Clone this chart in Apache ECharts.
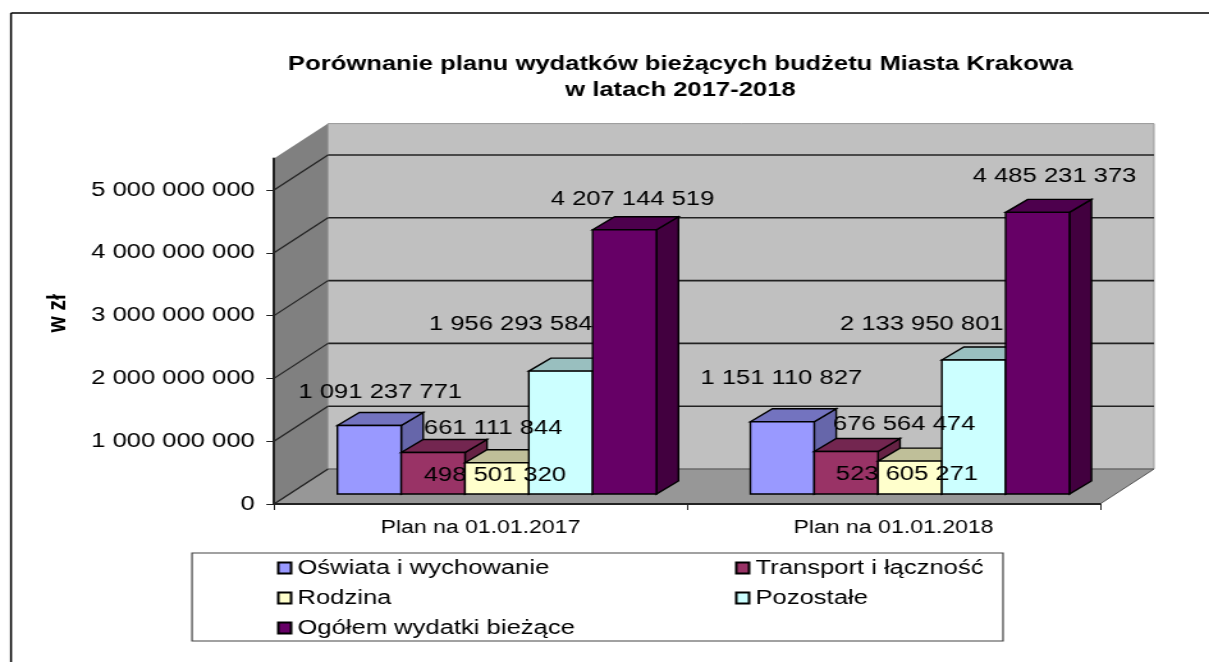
<!DOCTYPE html>
<html>
<head>
<meta charset="utf-8">
<title>Budżet Krakowa</title>
<script src="https://cdn.jsdelivr.net/npm/echarts@6/dist/echarts.min.js"></script>
<style>
    html, body { margin: 0; padding: 0; background: #fff; overflow: hidden; }
    /* the reference is a horizontally stretched, soft picture, text included */
    #chart { width: 945px; height: 662px; transform: scaleX(1.2794); transform-origin: 0 0; filter: blur(0.35px); }
</style>
</head>
<body>
<div id="chart"></div>
<script>
    const categories = ['Plan na 01.01.2017', 'Plan na 01.01.2018'];
    const seriesNames = ['Oświata i wychowanie', 'Transport i łączność', 'Rodzina', 'Pozostałe', 'Ogółem wydatki bieżące'];
    const oswiata = [1091237771, 1151110827];
    const transport = [661111844, 676564474];
    const rodzina = [498501320, 523605271];
    const pozostale = [1956293584, 2133950801];
    const ogolem = [4207144519, 4485231373];
    const yTicks = [0, 1000000000, 2000000000, 3000000000, 4000000000, 5000000000];
    const yMax = 5500000000;

    const S = 1209 / 945;
    const FONT = '"Liberation Sans", Arial, sans-serif';
    const allValues = [oswiata, transport, rodzina, pozostale, ogolem];
    const colors = ['#9999FF', '#993366', '#FFFFCC', '#CCFFFF', '#660066'];
    const topColors = ['#7373BF', '#732650', '#BFBF99', '#99BFBF', '#4D004D'];
    const sideColors = ['#6666AA', '#662244', '#AAAA88', '#88AAAA', '#42003F'];
    // hand-moved data labels of the original, page px from the top of each bar
    const labelShift = [
        [[0, -20], [49, -10.5], [-13, 26], [-61, -34], [-3, -17]],
        [[-12, -30], [47, -14], [-14, 26], [-63, -23], [6, -23]]
    ];
    const DEPTH = {x: 54 / S, y: 35};
    const BASE = {x: 16.4 / S, y: 10};
    const BAR_DEPTH = {x: 22 / S, y: 13};

    const chart = echarts.init(document.getElementById('chart'));

    function poly(points, fill, stroke, width) {
        return {type: 'polygon', shape: {points}, style: {fill, stroke: stroke || 'none', lineWidth: width || 0}};
    }
    function line(a, b, stroke, width) {
        return {type: 'line', shape: {x1: a[0], y1: a[1], x2: b[0], y2: b[1]}, style: {stroke, lineWidth: width}};
    }
    function back(p) {
        return [p[0] + DEPTH.x, p[1] - DEPTH.y];
    }

    function renderWalls(params, api) {
        const l0 = api.coord([0, 0]);
        const bandW = api.size([1, 0])[0];
        const left = l0[0] - bandW / 2;
        const right = left + bandW * categories.length;
        const yAt = v => api.coord([0, v])[1];
        const fl = [left, yAt(0)], fr = [right, yAt(0)], tl = [left, yAt(yMax)], tr = [right, yAt(yMax)];
        const children = [
            poly([fl, tl, back(tl), back(fl)], '#808080'),
            poly([back(tl), back(tr), back(fr), back(fl)], '#C0C0C0', '#999999', 1),
            poly([fl, fr, back(fr), back(fl)], '#979797', '#555555', 1)
        ];
        yTicks.forEach(v => {
            const a = [left, yAt(v)], b = [right, yAt(v)];
            if (v > 0) children.push(line(back(a), back(b), '#222222', 1.6));
            children.push(line(a, back(a), '#222222', 1.2));
        });
        return {type: 'group', children};
    }

    function renderBar(params, api) {
        const idx = params.seriesIndex - 1;
        const cat = api.value(0);
        const band = api.size([1, 0])[0];
        const w = band * 0.7725 / 5;
        const base = api.coord([cat, 0]);
        const top = api.coord([cat, api.value(1)]);
        const x0 = base[0] - 2.5 * w + idx * w + BASE.x;
        const x1 = x0 + w;
        const yb = base[1] - BASE.y;
        const yt = top[1] - BASE.y;
        const dx = BAR_DEPTH.x, dy = BAR_DEPTH.y;
        const edge = '#000000';
        return {type: 'group', children: [
            poly([[x1, yt], [x1 + dx, yt - dy], [x1 + dx, yb - dy], [x1, yb]], sideColors[idx], edge, 1.4),
            poly([[x0, yt], [x0 + dx, yt - dy], [x1 + dx, yt - dy], [x1, yt]], topColors[idx], edge, 1.4),
            poly([[x0, yb], [x0, yt], [x1, yt], [x1, yb]], colors[idx], edge, 1.4)
        ]};
    }

    function spaced(v) {
        return String(v).replace(/\B(?=(\d{3})+$)/g, ' ');
    }

    function renderLabel(params, api) {
        const cat = api.value(0), idx = api.value(1);
        const band = api.size([1, 0])[0];
        const w = band * 0.7725 / 5;
        const top = api.coord([cat, api.value(2)]);
        const shift = labelShift[cat][idx];
        return {
            type: 'text',
            x: top[0] - 2.5 * w + (idx + 0.5) * w + BASE.x + BAR_DEPTH.x / 2 + shift[0] / S,
            y: top[1] - BASE.y - BAR_DEPTH.y + shift[1],
            style: {text: spaced(api.value(2)), fill: '#000', font: '20px ' + FONT, textAlign: 'center', verticalAlign: 'middle'}
        };
    }

    const barSeries = seriesNames.map((name, i) => ({
        name,
        type: 'custom',
        renderItem: renderBar,
        encode: {x: 0, y: 1},
        itemStyle: {color: colors[i], borderColor: '#000', borderWidth: 1.4},
        z: 3,
        data: allValues[i].map((v, c) => [c, v])
    }));

    const labelData = [];
    allValues.forEach((vals, i) => vals.forEach((v, c) => labelData.push([c, i, v])));

    const legendBase = {
        orient: 'vertical',
        icon: 'rect',
        itemWidth: 10,
        itemHeight: 11,
        itemGap: 10,
        selectedMode: false,
        textStyle: {fontFamily: FONT, fontSize: 20, color: '#000', lineHeight: 20},
        padding: 0
    };

    chart.setOption({
        animation: false,
        backgroundColor: '#fff',
        title: {
            text: 'Porównanie planu wydatków bieżących budżetu Miasta Krakowa\nw latach 2017-2018',
            left: 674 / S,
            top: 46,
            textAlign: 'center',
            textStyle: {fontFamily: FONT, fontWeight: 'bold', fontSize: 20, lineHeight: 26, color: '#000'}
        },
        grid: {left: 274 / S, right: (1209 - 1100) / S, top: 158.6, bottom: 158},
        legend: [
            Object.assign({}, legendBase, {left: 277 / S, top: 558, data: [seriesNames[0], seriesNames[2], seriesNames[4]]}),
            Object.assign({}, legendBase, {left: 735 / S, top: 558, data: [seriesNames[1], seriesNames[3]]})
        ],
        xAxis: {
            type: 'category',
            data: categories,
            z: 6,
            axisLine: {lineStyle: {color: '#222', width: 2}},
            axisTick: {show: true, length: 6, lineStyle: {color: '#222', width: 1}},
            axisLabel: {fontFamily: FONT, fontSize: 18, color: '#000', margin: 15}
        },
        yAxis: {
            type: 'value',
            min: 0,
            max: yMax,
            interval: 1000000000,
            z: 6,
            name: 'w zł',
            nameLocation: 'middle',
            nameGap: 158,
            nameRotate: 90,
            nameTextStyle: {fontFamily: FONT, fontWeight: 'bold', fontSize: 21, color: '#000', padding: [0, 0, 0, 36]},
            splitLine: {show: false},
            axisLine: {show: true, lineStyle: {color: '#222', width: 2}},
            axisTick: {show: true, length: 6, lineStyle: {color: '#222', width: 1}},
            axisLabel: {fontFamily: FONT, fontSize: 20, color: '#000', margin: 15, padding: [3, 0, 0, 0], showMaxLabel: false, formatter: v => spaced(v)}
        },
        graphic: [
            {type: 'line', shape: {x1: 11 / S, y1: 13, x2: 11 / S, y2: 662}, style: {stroke: '#000', lineWidth: 1.5}},
            {type: 'line', shape: {x1: 11 / S, y1: 13, x2: 945, y2: 13}, style: {stroke: '#000', lineWidth: 1.5}},
            {type: 'rect', z: -1, shape: {x: 192 / S, y: 553, width: (1003 - 192) / S, height: 88}, style: {fill: '#fff', stroke: '#444', lineWidth: 1.2}}
        ],
        series: [
            {type: 'custom', name: 'walls', renderItem: renderWalls, encode: {x: 0, y: 1}, z: 1, silent: true, data: [[0, 0]]}
        ].concat(barSeries, [
            {type: 'custom', name: 'labels', renderItem: renderLabel, encode: {x: 0, y: 2}, z: 5, silent: true, data: labelData}
        ])
    });
</script>
</body>
</html>
